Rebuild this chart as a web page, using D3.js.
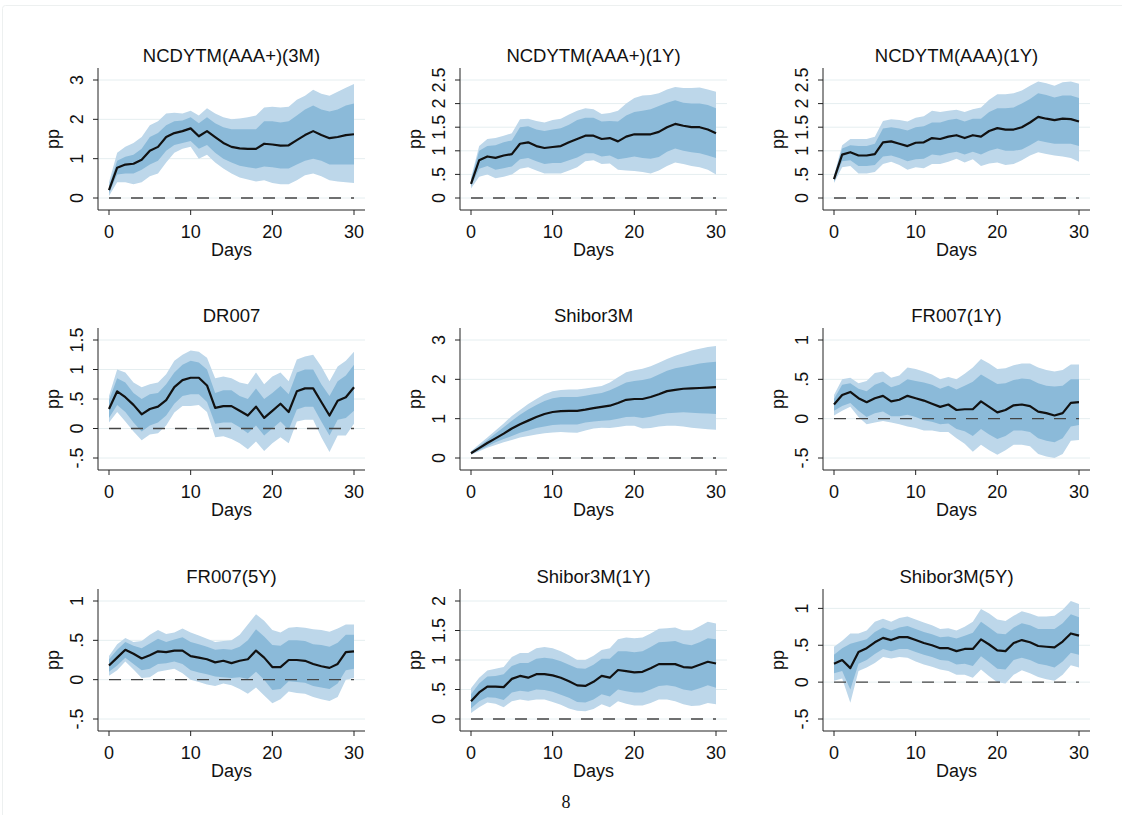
<!DOCTYPE html>
<html>
<head>
<meta charset="utf-8">
<script src="https://d3js.org/d3.v7.min.js"></script>
<style>
  body { margin: 0; background: #fff; }
  svg { display: block; font-family: "Liberation Sans", Arial, sans-serif; }
</style>
</head>
<body>
<div id="graph"></div>
<script>
// Impulse responses, days 0..30: point estimate, inner band, outer band
var days = d3.range(0, 31);
var xTicks = [0, 10, 20, 30];

var titles = ["NCDYTM(AAA+)(3M)", "NCDYTM(AAA+)(1Y)", "NCDYTM(AAA)(1Y)",
              "DR007", "Shibor3M", "FR007(1Y)",
              "FR007(5Y)", "Shibor3M(1Y)", "Shibor3M(5Y)"];

var yTicks = [[0, 1, 2, 3], [0, .5, 1, 1.5, 2, 2.5], [0, .5, 1, 1.5, 2, 2.5],
              [-.5, 0, .5, 1, 1.5], [0, 1, 2, 3], [-.5, 0, .5, 1],
              [-.5, 0, .5, 1], [0, .5, 1, 1.5, 2], [-.5, 0, .5, 1]];
var yDomains = [[0, 3], [0, 2.5], [0, 2.5],
                [-.5, 1.5], [0, 3], [-.5, 1],
                [-.5, 1], [0, 2], [-.5, 1.1]];

// NCDYTM(AAA+)(3M)
var p1Mean = [0.2,0.77,0.85,0.87,0.97,1.2,1.3,1.55,1.65,1.7,1.77,1.57,1.7,1.55,1.4,1.3,1.26,1.25,1.25,1.38,1.36,1.33,1.34,1.47,1.6,1.7,1.6,1.52,1.55,1.6,1.62];
var p1InHi = [0.3,0.95,1.05,1.1,1.25,1.55,1.65,1.85,1.95,1.97,2.05,1.9,2.05,1.9,1.8,1.75,1.75,1.75,1.75,1.95,1.95,1.92,1.95,2.1,2.25,2.35,2.25,2.2,2.25,2.35,2.4];
var p1InLo = [0.12,0.6,0.62,0.62,0.72,0.85,0.95,1.2,1.35,1.4,1.45,1.25,1.35,1.15,1.0,0.9,0.82,0.78,0.75,0.8,0.78,0.75,0.75,0.85,0.95,1.0,0.95,0.85,0.85,0.85,0.85];
var p1OutHi = [0.4,1.15,1.3,1.4,1.55,1.85,1.95,2.15,2.17,2.15,2.22,2.1,2.28,2.15,2.05,2.0,2.02,2.05,2.1,2.3,2.32,2.3,2.32,2.5,2.6,2.75,2.65,2.6,2.7,2.8,2.9];
var p1OutLo = [0.05,0.4,0.4,0.35,0.4,0.55,0.62,0.9,1.15,1.25,1.3,1.0,1.1,0.9,0.75,0.62,0.52,0.47,0.42,0.45,0.38,0.35,0.35,0.45,0.58,0.62,0.55,0.45,0.42,0.4,0.38];

// NCDYTM(AAA+)(1Y)
var p2Mean = [0.3,0.8,0.88,0.85,0.9,0.93,1.15,1.18,1.1,1.06,1.08,1.1,1.18,1.25,1.32,1.32,1.25,1.27,1.2,1.3,1.35,1.35,1.35,1.4,1.5,1.57,1.53,1.5,1.5,1.45,1.37];
var p2InHi = [0.38,1.0,1.1,1.12,1.18,1.22,1.5,1.52,1.45,1.42,1.45,1.48,1.55,1.65,1.7,1.7,1.62,1.63,1.62,1.75,1.82,1.85,1.88,1.95,2.02,2.07,2.02,2.0,2.0,1.97,1.9];
var p2InLo = [0.25,0.62,0.68,0.6,0.63,0.67,0.82,0.85,0.78,0.72,0.74,0.74,0.8,0.86,0.95,0.95,0.88,0.9,0.82,0.85,0.88,0.85,0.83,0.87,0.98,1.05,1.0,0.97,0.95,0.9,0.85];
var p2OutHi = [0.42,1.1,1.25,1.27,1.32,1.37,1.67,1.68,1.63,1.6,1.65,1.68,1.77,1.85,1.9,1.88,1.78,1.8,1.85,2.0,2.12,2.17,2.18,2.22,2.3,2.35,2.33,2.33,2.34,2.3,2.25];
var p2OutLo = [0.2,0.45,0.5,0.42,0.45,0.5,0.62,0.65,0.58,0.52,0.52,0.52,0.58,0.65,0.78,0.8,0.72,0.73,0.6,0.58,0.57,0.55,0.52,0.58,0.68,0.75,0.72,0.68,0.65,0.6,0.5];

// NCDYTM(AAA)(1Y)
var p3Mean = [0.4,0.92,0.97,0.9,0.9,0.93,1.18,1.2,1.15,1.1,1.17,1.18,1.27,1.25,1.3,1.33,1.27,1.33,1.3,1.42,1.48,1.45,1.45,1.5,1.6,1.72,1.68,1.65,1.68,1.67,1.62];
var p3InHi = [0.45,1.05,1.12,1.1,1.1,1.15,1.47,1.5,1.47,1.43,1.5,1.52,1.6,1.6,1.65,1.68,1.62,1.68,1.68,1.82,1.9,1.9,1.92,2.0,2.1,2.22,2.18,2.13,2.17,2.17,2.12];
var p3InLo = [0.35,0.78,0.8,0.68,0.68,0.7,0.88,0.9,0.85,0.78,0.82,0.83,0.92,0.9,0.95,0.98,0.92,0.98,0.92,1.0,1.05,1.0,1.0,1.03,1.12,1.22,1.18,1.15,1.15,1.15,1.1];
var p3OutHi = [0.48,1.12,1.25,1.25,1.25,1.3,1.63,1.67,1.65,1.62,1.7,1.73,1.85,1.82,1.85,1.87,1.82,1.88,1.92,2.08,2.2,2.2,2.22,2.28,2.38,2.47,2.43,2.38,2.45,2.47,2.42];
var p3OutLo = [0.32,0.65,0.68,0.52,0.52,0.55,0.72,0.77,0.7,0.6,0.65,0.63,0.72,0.72,0.77,0.83,0.75,0.82,0.68,0.73,0.75,0.7,0.72,0.8,0.9,0.97,0.93,0.9,0.88,0.85,0.77];

// DR007
var p4Mean = [0.33,0.63,0.53,0.4,0.24,0.33,0.37,0.48,0.7,0.82,0.86,0.86,0.73,0.35,0.38,0.38,0.3,0.22,0.37,0.18,0.3,0.42,0.28,0.63,0.68,0.68,0.45,0.22,0.47,0.53,0.7];
var p4InHi = [0.48,0.85,0.78,0.6,0.5,0.58,0.6,0.75,0.95,1.08,1.15,1.12,1.0,0.6,0.65,0.65,0.55,0.5,0.68,0.5,0.6,0.72,0.58,0.95,1.0,1.0,0.75,0.55,0.8,0.9,1.08];
var p4InLo = [0.18,0.4,0.28,0.1,-0.05,0.05,0.1,0.22,0.42,0.55,0.58,0.58,0.45,0.08,0.1,0.1,0.02,-0.08,0.05,-0.12,0.0,0.12,-0.02,0.32,0.37,0.37,0.12,-0.12,0.15,0.18,0.3];
var p4OutHi = [0.55,1.0,0.95,0.78,0.7,0.75,0.78,0.92,1.15,1.25,1.32,1.3,1.2,0.85,0.88,0.85,0.78,0.75,0.95,0.75,0.88,0.95,0.8,1.17,1.22,1.25,1.05,0.8,1.05,1.15,1.3];
var p4OutLo = [0.1,0.28,0.12,-0.05,-0.2,-0.1,-0.08,0.05,0.27,0.38,0.38,0.4,0.28,-0.15,-0.13,-0.18,-0.25,-0.35,-0.22,-0.38,-0.25,-0.15,-0.25,0.12,0.15,0.15,-0.15,-0.4,-0.12,-0.12,0.08];

// Shibor3M
var p5Mean = [0.12,0.25,0.38,0.5,0.62,0.75,0.86,0.95,1.04,1.12,1.17,1.19,1.2,1.2,1.23,1.27,1.3,1.33,1.4,1.48,1.5,1.5,1.55,1.62,1.7,1.73,1.76,1.77,1.78,1.79,1.8];
var p5InHi = [0.15,0.3,0.46,0.62,0.78,0.95,1.1,1.23,1.35,1.45,1.52,1.55,1.55,1.55,1.58,1.62,1.65,1.72,1.82,1.92,1.96,1.98,2.03,2.12,2.22,2.28,2.32,2.36,2.4,2.43,2.45];
var p5InLo = [0.1,0.2,0.3,0.4,0.48,0.56,0.64,0.7,0.76,0.8,0.84,0.85,0.85,0.85,0.9,0.93,0.95,0.96,1.0,1.04,1.05,1.02,1.05,1.1,1.14,1.15,1.16,1.15,1.14,1.13,1.12];
var p5OutHi = [0.17,0.35,0.52,0.7,0.88,1.07,1.22,1.37,1.5,1.62,1.7,1.73,1.74,1.74,1.77,1.8,1.83,1.92,2.05,2.18,2.23,2.27,2.33,2.42,2.52,2.6,2.66,2.73,2.78,2.82,2.85];
var p5OutLo = [0.08,0.17,0.26,0.33,0.4,0.46,0.52,0.56,0.6,0.63,0.65,0.66,0.65,0.64,0.7,0.75,0.77,0.76,0.79,0.82,0.82,0.75,0.76,0.8,0.82,0.82,0.8,0.77,0.75,0.73,0.72];

// FR007(1Y)
var p6Mean = [0.18,0.3,0.34,0.26,0.21,0.26,0.29,0.22,0.24,0.29,0.26,0.23,0.19,0.15,0.18,0.11,0.12,0.12,0.22,0.15,0.08,0.11,0.17,0.18,0.16,0.09,0.07,0.04,0.07,0.2,0.21];
var p6InHi = [0.25,0.43,0.45,0.38,0.35,0.43,0.47,0.4,0.43,0.5,0.48,0.46,0.43,0.38,0.42,0.37,0.42,0.47,0.56,0.5,0.44,0.45,0.49,0.51,0.5,0.45,0.42,0.41,0.42,0.5,0.5];
var p6InLo = [0.1,0.16,0.2,0.1,0.02,0.07,0.09,0.03,0.03,0.05,0.02,-0.02,-0.04,-0.07,-0.06,-0.13,-0.16,-0.22,-0.13,-0.2,-0.26,-0.22,-0.15,-0.15,-0.17,-0.25,-0.28,-0.3,-0.25,-0.1,-0.08];
var p6OutHi = [0.3,0.5,0.52,0.45,0.48,0.58,0.6,0.52,0.55,0.65,0.63,0.6,0.56,0.5,0.53,0.5,0.57,0.65,0.76,0.7,0.63,0.64,0.68,0.7,0.7,0.65,0.62,0.6,0.62,0.69,0.69];
var p6OutLo = [0.04,0.1,0.15,0.02,-0.07,-0.05,-0.03,-0.05,-0.07,-0.1,-0.12,-0.15,-0.15,-0.17,-0.17,-0.25,-0.32,-0.42,-0.33,-0.4,-0.46,-0.4,-0.33,-0.33,-0.35,-0.45,-0.48,-0.5,-0.45,-0.28,-0.27];

// FR007(5Y)
var p7Mean = [0.18,0.28,0.38,0.33,0.27,0.31,0.36,0.35,0.37,0.37,0.3,0.28,0.26,0.22,0.24,0.21,0.24,0.26,0.37,0.28,0.16,0.16,0.25,0.25,0.24,0.2,0.17,0.15,0.2,0.35,0.36];
var p7InHi = [0.26,0.38,0.48,0.43,0.4,0.46,0.52,0.48,0.51,0.54,0.48,0.45,0.42,0.38,0.39,0.38,0.42,0.5,0.64,0.55,0.44,0.43,0.5,0.5,0.49,0.45,0.44,0.42,0.47,0.57,0.57];
var p7InLo = [0.1,0.18,0.28,0.2,0.12,0.14,0.2,0.21,0.23,0.2,0.12,0.09,0.07,0.04,0.03,0.02,0.03,0.01,0.1,0.0,-0.13,-0.12,-0.02,-0.03,-0.04,-0.08,-0.1,-0.12,-0.05,0.12,0.14];
var p7OutHi = [0.3,0.45,0.53,0.48,0.49,0.57,0.63,0.58,0.6,0.65,0.6,0.56,0.52,0.48,0.49,0.5,0.57,0.7,0.83,0.75,0.63,0.6,0.66,0.67,0.66,0.64,0.63,0.61,0.65,0.7,0.7];
var p7OutLo = [0.05,0.12,0.23,0.13,0.02,0.03,0.1,0.12,0.14,0.08,0.0,-0.03,-0.06,-0.08,-0.05,-0.07,-0.12,-0.18,-0.1,-0.2,-0.3,-0.25,-0.15,-0.17,-0.18,-0.22,-0.25,-0.27,-0.22,0.0,0.02];

// Shibor3M(1Y)
var p8Mean = [0.3,0.45,0.55,0.55,0.54,0.68,0.73,0.7,0.76,0.76,0.74,0.7,0.64,0.57,0.56,0.63,0.73,0.7,0.83,0.81,0.79,0.8,0.86,0.93,0.93,0.93,0.88,0.87,0.92,0.97,0.94];
var p8InHi = [0.42,0.6,0.72,0.73,0.76,0.9,0.95,0.95,1.02,1.04,1.02,0.98,0.92,0.86,0.85,0.92,1.02,1.02,1.15,1.15,1.13,1.15,1.22,1.3,1.31,1.32,1.27,1.25,1.3,1.37,1.35];
var p8InLo = [0.18,0.3,0.37,0.36,0.32,0.45,0.48,0.46,0.5,0.49,0.46,0.41,0.36,0.29,0.28,0.33,0.42,0.38,0.5,0.47,0.45,0.45,0.5,0.56,0.57,0.55,0.5,0.48,0.52,0.57,0.53];
var p8OutHi = [0.52,0.7,0.82,0.85,0.88,1.05,1.12,1.12,1.2,1.22,1.2,1.15,1.08,1.0,1.0,1.07,1.17,1.2,1.35,1.38,1.37,1.38,1.45,1.53,1.54,1.55,1.5,1.5,1.57,1.65,1.62];
var p8OutLo = [0.1,0.2,0.28,0.26,0.2,0.3,0.33,0.31,0.33,0.33,0.29,0.24,0.18,0.14,0.13,0.17,0.25,0.2,0.3,0.26,0.23,0.23,0.27,0.33,0.33,0.3,0.25,0.22,0.23,0.27,0.25];

// Shibor3M(5Y)
var p9Mean = [0.25,0.3,0.19,0.41,0.46,0.54,0.6,0.57,0.61,0.61,0.57,0.53,0.5,0.46,0.46,0.42,0.45,0.45,0.58,0.51,0.43,0.42,0.53,0.57,0.54,0.49,0.48,0.47,0.55,0.66,0.63];
var p9InHi = [0.37,0.46,0.52,0.55,0.58,0.68,0.74,0.7,0.74,0.76,0.72,0.68,0.65,0.61,0.62,0.59,0.63,0.67,0.82,0.74,0.66,0.65,0.74,0.8,0.77,0.72,0.72,0.72,0.8,0.92,0.88];
var p9InLo = [0.12,0.15,-0.1,0.25,0.3,0.38,0.45,0.42,0.45,0.45,0.41,0.37,0.34,0.3,0.29,0.24,0.25,0.22,0.35,0.27,0.18,0.17,0.3,0.33,0.3,0.25,0.23,0.2,0.28,0.4,0.37];
var p9OutHi = [0.48,0.56,0.66,0.66,0.7,0.82,0.86,0.82,0.87,0.89,0.85,0.81,0.77,0.72,0.73,0.7,0.75,0.82,0.99,0.93,0.85,0.83,0.9,0.96,0.93,0.89,0.89,0.9,0.98,1.1,1.06];
var p9OutLo = [0.02,0.05,-0.28,0.15,0.2,0.26,0.34,0.32,0.34,0.33,0.28,0.24,0.21,0.17,0.15,0.1,0.1,0.06,0.17,0.08,0.0,-0.02,0.1,0.16,0.12,0.07,0.04,0.02,0.1,0.23,0.2];

var means = [p1Mean, p2Mean, p3Mean, p4Mean, p5Mean, p6Mean, p7Mean, p8Mean, p9Mean];
var inHi = [p1InHi, p2InHi, p3InHi, p4InHi, p5InHi, p6InHi, p7InHi, p8InHi, p9InHi];
var inLo = [p1InLo, p2InLo, p3InLo, p4InLo, p5InLo, p6InLo, p7InLo, p8InLo, p9InLo];
var outHi = [p1OutHi, p2OutHi, p3OutHi, p4OutHi, p5OutHi, p6OutHi, p7OutHi, p8OutHi, p9OutHi];
var outLo = [p1OutLo, p2OutLo, p3OutLo, p4OutLo, p5OutLo, p6OutLo, p7OutLo, p8OutLo, p9OutLo];

// Layout
var W = 1122, H = 815;
var colX = [109, 471, 834];   // pixel of day 0
var rowY = [80, 340, 601];    // pixel of top of the value range
var plotW = 245, plotH = 118, pad = 12;

var svg = d3.select("#graph")
  .append("svg")
  .attr("width", W)
  .attr("height", H);

// faint page frame
svg.append("rect")
  .attr("x", 2.5).attr("y", 5.5)
  .attr("width", W + 10).attr("height", H + 10)
  .attr("rx", 3)
  .attr("fill", "none")
  .attr("stroke", "#edf0f0");

// Stata-style tick labels: .5, -.5, 1.5
function fmt(v) {
  var s = String(v);
  return s.replace(/^0\./, ".").replace(/^-0\./, "-.");
}

titles.forEach(function(title, i) {
  var col = i % 3, row = Math.floor(i / 3);
  var g = svg.append("g")
    .attr("transform", "translate(" + colX[col] + "," + rowY[row] + ")");

  var x = d3.scaleLinear().domain([0, 30]).range([0, plotW]);
  var y = d3.scaleLinear().domain(yDomains[i]).range([plotH, 0]);

  var x0 = -11, x1 = plotW + 11;

  // gridlines
  g.selectAll(".grid")
    .data(yTicks[i])
    .enter()
    .append("line")
    .attr("x1", x0).attr("x2", x1)
    .attr("y1", function(d) { return y(d); })
    .attr("y2", function(d) { return y(d); })
    .attr("stroke", "#e5eef0")
    .attr("stroke-width", 1);

  var area = function(lo, hi) {
    return d3.area()
      .x(function(d) { return x(d); })
      .y0(function(d, k) { return y(lo[k]); })
      .y1(function(d, k) { return y(hi[k]); });
  };

  // outer band
  g.append("path")
    .datum(days)
    .attr("fill", "#bdd7ea")
    .attr("d", area(outLo[i], outHi[i]));

  // inner band
  g.append("path")
    .datum(days)
    .attr("fill", "#8bbad9")
    .attr("d", area(inLo[i], inHi[i]));

  // zero line
  g.append("line")
    .attr("x1", x(0)).attr("x2", x(30))
    .attr("y1", y(0)).attr("y2", y(0))
    .attr("stroke", "#444")
    .attr("stroke-width", 1.4)
    .attr("stroke-dasharray", "12,10");

  // point estimate
  var line = d3.line()
    .x(function(d) { return x(d); })
    .y(function(d, k) { return y(means[i][k]); });

  g.append("path")
    .datum(days)
    .attr("fill", "none")
    .attr("stroke", "#111")
    .attr("stroke-width", 2.2)
    .attr("stroke-linejoin", "round")
    .attr("d", line);

  // y axis
  g.append("line")
    .attr("x1", x0).attr("x2", x0)
    .attr("y1", -pad).attr("y2", plotH + pad)
    .attr("stroke", "#222");

  g.selectAll(".ytick")
    .data(yTicks[i])
    .enter()
    .append("line")
    .attr("x1", x0 - 5).attr("x2", x0)
    .attr("y1", function(d) { return y(d); })
    .attr("y2", function(d) { return y(d); })
    .attr("stroke", "#222");

  g.selectAll(".ylab")
    .data(yTicks[i])
    .enter()
    .append("text")
    .attr("transform", function(d) { return "translate(" + (x0 - 21) + "," + y(d) + ") rotate(-90)"; })
    .attr("dy", "0.35em")
    .style("text-anchor", "middle")
    .style("font-size", "18px")
    .attr("fill", "#111")
    .text(fmt);

  g.append("text")
    .attr("transform", "translate(" + (x0 - 44) + "," + (plotH / 2) + ") rotate(-90)")
    .attr("dy", "0.3em")
    .style("text-anchor", "middle")
    .style("font-size", "18px")
    .attr("fill", "#111")
    .text("pp");

  // x axis
  g.append("line")
    .attr("x1", x0).attr("x2", x1)
    .attr("y1", plotH + pad).attr("y2", plotH + pad)
    .attr("stroke", "#222");

  g.selectAll(".xtick")
    .data(xTicks)
    .enter()
    .append("line")
    .attr("x1", function(d) { return x(d); })
    .attr("x2", function(d) { return x(d); })
    .attr("y1", plotH + pad).attr("y2", plotH + pad + 5)
    .attr("stroke", "#222");

  g.selectAll(".xlab")
    .data(xTicks)
    .enter()
    .append("text")
    .attr("x", function(d) { return x(d); })
    .attr("y", plotH + pad + 28)
    .style("text-anchor", "middle")
    .style("font-size", "18px")
    .attr("fill", "#111")
    .text(function(d) { return d; });

  g.append("text")
    .attr("x", plotW / 2)
    .attr("y", plotH + pad + 46)
    .style("text-anchor", "middle")
    .style("font-size", "18px")
    .attr("fill", "#111")
    .text("Days");

  // panel title
  g.append("text")
    .attr("x", plotW / 2)
    .attr("y", -18)
    .style("text-anchor", "middle")
    .style("font-size", "18.5px")
    .attr("fill", "#111")
    .text(title);
});

// page number at the lower edge
svg.append("text")
  .attr("x", 566)
  .attr("y", 808)
  .style("text-anchor", "middle")
  .style("font-family", "'Liberation Serif', serif")
  .style("font-size", "18px")
  .attr("fill", "#111")
  .text("8");
</script>
</body>
</html>
